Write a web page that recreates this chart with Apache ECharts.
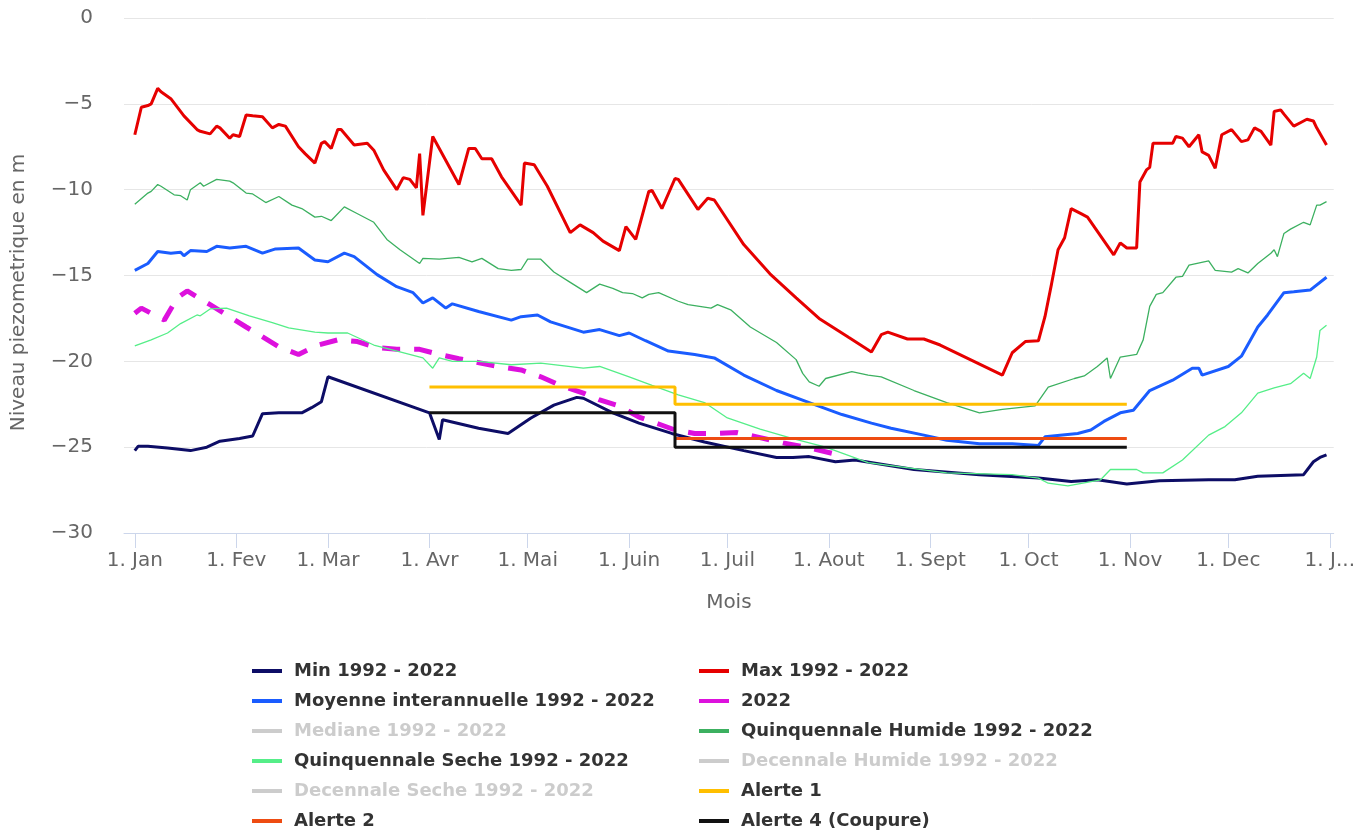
<!DOCTYPE html>
<html>
<head>
<meta charset="utf-8">
<title>Niveau piezometrique</title>
<script src="https://cdn.jsdelivr.net/npm/echarts@6/dist/echarts.min.js"></script>
<style>
  html, body { margin: 0; padding: 0; background: #fff; }
  #chart { width: 1358px; height: 832px; }
</style>
</head>
<body>
<div id="chart"></div>
<script>
// jours de debut de mois (annee non bissextile)
const monthStart = [0, 31, 59, 90, 120, 151, 181, 212, 243, 273, 304, 334];
const tickDays = [0, 31, 59, 90, 120, 151, 181, 212, 243, 273, 304, 334, 365];
const tickLabels = ['1. Jan', '1. Fev', '1. Mar', '1. Avr', '1. Mai', '1. Juin', '1. Juil',
  '1. Aout', '1. Sept', '1. Oct', '1. Nov', '1. Dec', '1. J...'];

// niveaux en m, points [mois-jour, valeur]
const minData = [['01-01',-25.2],['01-02',-24.95],['01-05',-24.95],['01-11',-25.05],['01-18',-25.2],
  ['01-23',-25.0],['01-27',-24.65],['02-02',-24.5],['02-06',-24.35],['02-09',-23.05],['02-14',-23.0],
  ['02-21',-23.0],['02-24',-22.7],['02-27',-22.35],['03-01',-20.9],['04-01',-23.0],['04-04',-24.55],
  ['04-05',-23.4],['04-16',-23.9],['04-25',-24.2],['05-02',-23.3],['05-09',-22.55],['05-16',-22.1],
  ['05-18',-22.15],['05-27',-23.0],['06-04',-23.6],['06-14',-24.2],['06-24',-24.7],['07-06',-25.2],
  ['07-16',-25.6],['07-21',-25.6],['07-26',-25.55],['08-03',-25.85],['08-09',-25.75],['08-27',-26.3],
  ['09-16',-26.6],['10-04',-26.8],['10-14',-27.0],['10-22',-26.9],['10-31',-27.15],['11-10',-26.95],
  ['11-25',-26.9],['12-03',-26.9],['12-10',-26.7],['12-24',-26.6],['12-27',-25.85],['12-29',-25.6],
  ['12-31',-25.45]];

const maxData = [['01-01',-6.8],['01-03',-5.2],['01-05',-5.1],['01-06',-5.0],['01-08',-4.1],['01-09',-4.3],
  ['01-12',-4.7],['01-16',-5.7],['01-20',-6.5],['01-21',-6.6],['01-24',-6.75],['01-26',-6.3],['01-27',-6.4],
  ['01-30',-7.0],['01-31',-6.8],['02-02',-6.9],['02-04',-5.65],['02-06',-5.7],['02-09',-5.75],['02-12',-6.4],
  ['02-14',-6.2],['02-16',-6.3],['02-20',-7.5],['02-22',-7.9],['02-25',-8.45],['02-27',-7.3],['02-28',-7.2],
  ['03-02',-7.6],['03-04',-6.5],['03-05',-6.5],['03-09',-7.4],['03-13',-7.3],['03-15',-7.7],['03-18',-8.85],
  ['03-22',-10.0],['03-24',-9.3],['03-26',-9.4],['03-28',-9.9],['03-29',-7.9],['03-30',-11.5],['04-02',-6.9],
  ['04-10',-9.7],['04-13',-7.6],['04-15',-7.6],['04-17',-8.2],['04-20',-8.2],['04-23',-9.25],['04-29',-10.9],
  ['04-30',-8.45],['05-03',-8.55],['05-07',-9.8],['05-14',-12.5],['05-17',-12.05],['05-21',-12.5],
  ['05-24',-13.0],['05-29',-13.55],['05-31',-12.15],['06-03',-12.9],['06-07',-10.1],['06-08',-10.05],
  ['06-11',-11.1],['06-15',-9.35],['06-16',-9.4],['06-22',-11.15],['06-25',-10.5],['06-27',-10.6],
  ['07-06',-13.2],['07-14',-14.9],['07-22',-16.3],['07-29',-17.5],['08-07',-18.6],['08-14',-19.45],
  ['08-17',-18.45],['08-19',-18.3],['08-25',-18.7],['08-30',-18.7],['09-04',-19.05],['09-23',-20.8],
  ['09-26',-19.5],['09-30',-18.85],['10-04',-18.8],['10-06',-17.4],['10-08',-15.5],['10-10',-13.5],
  ['10-12',-12.8],['10-14',-11.1],['10-17',-11.4],['10-19',-11.6],['10-27',-13.8],['10-29',-13.1],
  ['10-31',-13.4],['11-03',-13.4],['11-04',-9.55],['11-06',-8.85],['11-07',-8.7],['11-08',-7.3],
  ['11-14',-7.3],['11-15',-6.9],['11-17',-7.0],['11-19',-7.5],['11-22',-6.8],['11-23',-7.8],['11-25',-8.0],
  ['11-27',-8.75],['11-29',-6.8],['12-02',-6.5],['12-05',-7.2],['12-07',-7.1],['12-09',-6.4],['12-11',-6.6],
  ['12-14',-7.4],['12-15',-5.45],['12-17',-5.35],['12-18',-5.6],['12-21',-6.3],['12-23',-6.1],
  ['12-25',-5.9],['12-27',-6.0],['12-28',-6.4],['12-31',-7.4]];

const moyenneData = [['01-01',-14.7],['01-05',-14.3],['01-08',-13.6],['01-12',-13.7],['01-15',-13.65],
  ['01-16',-13.85],['01-18',-13.55],['01-23',-13.6],['01-26',-13.3],['01-30',-13.4],['02-04',-13.3],
  ['02-09',-13.7],['02-13',-13.45],['02-20',-13.4],['02-25',-14.1],['03-01',-14.2],['03-06',-13.7],
  ['03-09',-13.9],['03-16',-14.95],['03-22',-15.65],['03-27',-16.0],['03-30',-16.6],['04-02',-16.3],
  ['04-06',-16.9],['04-08',-16.65],['04-16',-17.1],['04-26',-17.6],['04-29',-17.4],['05-04',-17.3],
  ['05-08',-17.7],['05-18',-18.3],['05-23',-18.15],['05-29',-18.5],['06-01',-18.35],['06-06',-18.8],
  ['06-13',-19.4],['06-21',-19.6],['06-27',-19.8],['07-06',-20.8],['07-16',-21.7],['07-26',-22.4],
  ['08-05',-23.1],['08-14',-23.6],['08-20',-23.9],['08-30',-24.3],['09-06',-24.6],['09-16',-24.8],
  ['09-26',-24.8],['10-04',-24.9],['10-06',-24.4],['10-16',-24.2],['10-20',-24.0],['10-24',-23.5],
  ['10-29',-23.0],['11-02',-22.85],['11-07',-21.7],['11-10',-21.45],['11-14',-21.1],['11-20',-20.4],
  ['11-22',-20.4],['11-23',-20.8],['12-01',-20.3],['12-05',-19.7],['12-10',-18.0],['12-13',-17.3],
  ['12-18',-16.0],['12-21',-15.95],['12-26',-15.85],['12-31',-15.1]];

const annee2022Data = [['01-01',-17.2],['01-03',-16.9],['01-06',-17.2],['01-10',-17.6],['01-14',-16.3],
  ['01-17',-15.9],['01-24',-16.7],['02-04',-18.0],['02-14',-19.15],['02-20',-19.6],['02-26',-19.05],
  ['03-04',-18.75],['03-10',-18.85],['03-16',-19.2],['03-22',-19.3],['03-29',-19.3],['04-04',-19.6],
  ['04-10',-19.85],['04-22',-20.3],['04-29',-20.5],['05-05',-20.9],['05-11',-21.4],['05-18',-21.85],
  ['05-23',-22.25],['05-29',-22.6],['06-04',-23.25],['06-10',-23.65],['06-15',-24.0],['06-21',-24.2],
  ['06-27',-24.2],['07-04',-24.15],['07-10',-24.4],['07-18',-24.75],['07-26',-25.05],['08-03',-25.4]];

const medianeData = [];

const quinqHumideData = [['01-01',-10.85],['01-05',-10.2],['01-06',-10.1],['01-08',-9.7],['01-09',-9.8],
  ['01-13',-10.3],['01-15',-10.35],['01-17',-10.6],['01-18',-10.0],['01-21',-9.6],['01-22',-9.8],
  ['01-26',-9.4],['01-30',-9.5],['01-31',-9.6],['02-04',-10.2],['02-06',-10.25],['02-10',-10.75],
  ['02-14',-10.4],['02-18',-10.9],['02-21',-11.1],['02-25',-11.6],['02-27',-11.55],['03-02',-11.8],
  ['03-06',-11.0],['03-09',-11.3],['03-15',-11.9],['03-19',-12.9],['03-23',-13.5],['03-29',-14.3],
  ['03-30',-14.0],['04-04',-14.05],['04-10',-13.95],['04-14',-14.2],['04-17',-14.0],['04-22',-14.6],
  ['04-26',-14.7],['04-29',-14.65],['05-01',-14.05],['05-05',-14.05],['05-09',-14.8],['05-14',-15.4],
  ['05-19',-16.0],['05-23',-15.5],['05-27',-15.75],['05-30',-16.0],['06-02',-16.05],['06-05',-16.3],
  ['06-07',-16.1],['06-10',-16.0],['06-16',-16.5],['06-19',-16.7],['06-26',-16.9],['06-28',-16.7],
  ['07-02',-17.0],['07-08',-18.0],['07-16',-18.9],['07-22',-19.9],['07-24',-20.7],['07-26',-21.2],
  ['07-29',-21.45],['07-31',-21.0],['08-08',-20.6],['08-13',-20.8],['08-17',-20.9],['08-27',-21.7],
  ['09-06',-22.4],['09-16',-23.0],['09-23',-22.8],['10-03',-22.6],['10-07',-21.5],['10-15',-21.0],
  ['10-18',-20.85],['10-22',-20.3],['10-25',-19.8],['10-26',-21.0],['10-29',-19.75],['11-03',-19.6],
  ['11-05',-18.75],['11-07',-16.8],['11-09',-16.1],['11-11',-16.0],['11-15',-15.1],['11-17',-15.05],
  ['11-19',-14.4],['11-25',-14.15],['11-27',-14.7],['12-02',-14.8],['12-04',-14.6],['12-07',-14.85],
  ['12-10',-14.3],['12-14',-13.7],['12-15',-13.5],['12-16',-13.9],['12-18',-12.55],['12-20',-12.3],
  ['12-24',-11.9],['12-26',-12.05],['12-28',-10.9],['12-29',-10.9],['12-31',-10.7]];

const quinqSecheData = [['01-01',-19.1],['01-06',-18.75],['01-11',-18.35],['01-15',-17.8],['01-20',-17.3],
  ['01-21',-17.35],['01-24',-16.95],['01-29',-16.9],['02-05',-17.35],['02-12',-17.75],['02-17',-18.05],
  ['02-25',-18.3],['03-01',-18.35],['03-07',-18.35],['03-15',-19.05],['03-23',-19.45],['03-30',-19.8],
  ['04-02',-20.4],['04-04',-19.8],['04-08',-20.0],['04-16',-20.0],['04-26',-20.2],['05-05',-20.1],
  ['05-18',-20.4],['05-23',-20.3],['06-01',-20.9],['06-08',-21.4],['06-16',-21.95],['06-24',-22.4],
  ['07-01',-23.3],['07-11',-23.95],['07-21',-24.5],['07-31',-25.0],['08-13',-25.9],['08-17',-26.0],
  ['09-06',-26.5],['09-26',-26.6],['10-04',-26.8],['10-07',-27.1],['10-13',-27.25],['10-23',-26.9],
  ['10-26',-26.3],['11-03',-26.3],['11-05',-26.5],['11-11',-26.5],['11-17',-25.75],['11-25',-24.3],
  ['11-30',-23.8],['12-05',-23.0],['12-10',-21.85],['12-15',-21.55],['12-20',-21.3],['12-24',-20.7],
  ['12-26',-21.0],['12-28',-19.75],['12-29',-18.2],['12-31',-17.9]];

const decHumideData = [];
const decSecheData = [];

const alerte1Data = [['04-01',-21.5],['06-15',-21.5],['06-15',-22.5],['10-31',-22.5]];
const alerte2Data = [['06-15',-24.5],['10-31',-24.5]];
const alerte4Data = [['04-01',-23.0],['06-15',-23.0],['06-15',-25.0],['10-31',-25.0]];

function dayOfYear(md) {
  const parts = md.split('-').map(Number);
  return monthStart[parts[0] - 1] + parts[1] - 1;
}
const toPoints = pts => pts.map(p => [dayOfYear(p[0]), p[1]]);

const FONT = 'DejaVu Sans';

function line(name, data, color, width, extra) {
  return Object.assign({
    name: name,
    type: 'line',
    data: toPoints(data),
    color: color,
    showSymbol: false,
    symbol: 'none',
    lineStyle: { width: width, color: color },
    emphasis: { disabled: true }
  }, extra || {});
}

const chart = echarts.init(document.getElementById('chart'));

const legendBase = {
  orient: 'vertical',
  top: 662,
  padding: 0,
  itemWidth: 30,
  itemHeight: 4,
  itemGap: 12,
  icon: 'rect',
  inactiveColor: '#cccccc',
  textStyle: {
    fontFamily: FONT,
    fontSize: 18,
    fontWeight: 'bold',
    color: '#333333',
    lineHeight: 18,
    padding: [0, 0, 0, 7]
  }
};

chart.setOption({
  animation: false,
  backgroundColor: '#ffffff',
  grid: { left: 124, top: 18, width: 1228, height: 515 },
  xAxis: {
    type: 'value',
    min: -3.3,
    max: 366.2,
    name: 'Mois',
    nameLocation: 'middle',
    nameGap: 60,
    nameTextStyle: { fontFamily: FONT, fontSize: 20, color: '#666666' },
    splitLine: { show: false },
    axisLine: { onZero: false, lineStyle: { color: '#ccd6eb', width: 1 } },
    axisTick: { customValues: tickDays, length: 15, lineStyle: { color: '#ccd6eb', width: 1 } },
    axisLabel: {
      customValues: tickDays,
      margin: 18,
      fontFamily: FONT,
      fontSize: 20,
      color: '#666666',
      formatter: v => tickLabels[tickDays.indexOf(v)] || ''
    }
  },
  yAxis: {
    type: 'value',
    min: -30,
    max: 0,
    interval: 5,
    name: 'Niveau piezometrique en m',
    nameLocation: 'middle',
    nameGap: 95,
    nameTextStyle: { fontFamily: FONT, fontSize: 20, color: '#666666', padding: [0, 34, 0, 0] },
    axisLine: { show: false },
    axisTick: { show: false },
    splitLine: { lineStyle: { color: '#e6e6e6', width: 1 } },
    axisLabel: {
      margin: 31,
      fontFamily: FONT,
      fontSize: 20,
      color: '#666666',
      formatter: v => (v < 0 ? '\u2212' + (-v) : String(v))
    }
  },
  legend: [
    Object.assign({}, legendBase, {
      left: 252,
      data: ['Min 1992 - 2022', 'Moyenne interannuelle 1992 - 2022', 'Mediane 1992 - 2022',
        'Quinquennale Seche 1992 - 2022', 'Decennale Seche 1992 - 2022', 'Alerte 2'],
      selected: { 'Mediane 1992 - 2022': false, 'Decennale Seche 1992 - 2022': false }
    }),
    Object.assign({}, legendBase, {
      left: 699,
      data: ['Max 1992 - 2022', '2022', 'Quinquennale Humide 1992 - 2022',
        'Decennale Humide 1992 - 2022', 'Alerte 1', 'Alerte 4 (Coupure)'],
      selected: { 'Decennale Humide 1992 - 2022': false }
    })
  ],
  series: [
    line('Min 1992 - 2022', minData, '#0d0d66', 3),
    line('Max 1992 - 2022', maxData, '#e60000', 3),
    line('Moyenne interannuelle 1992 - 2022', moyenneData, '#1a5cff', 3),
    line('2022', annee2022Data, '#dd11dd', 5, {
      lineStyle: { width: 5, color: '#dd11dd', type: [18, 14], cap: 'butt' }
    }),
    line('Mediane 1992 - 2022', medianeData, '#999999', 2),
    line('Quinquennale Humide 1992 - 2022', quinqHumideData, '#3cb060', 1.3),
    line('Quinquennale Seche 1992 - 2022', quinqSecheData, '#55ee88', 1.3),
    line('Decennale Humide 1992 - 2022', decHumideData, '#bbbbbb', 1),
    line('Decennale Seche 1992 - 2022', decSecheData, '#bbbbbb', 1),
    line('Alerte 1', alerte1Data, '#ffbf00', 3),
    line('Alerte 2', alerte2Data, '#ee4c12', 3),
    line('Alerte 4 (Coupure)', alerte4Data, '#111111', 3)
  ]
});
</script>
</body>
</html>
